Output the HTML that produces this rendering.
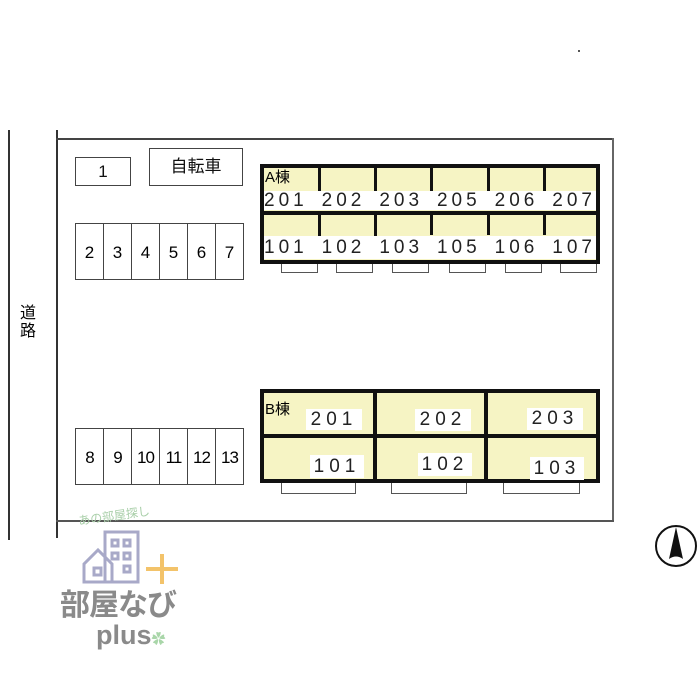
<!DOCTYPE html>
<html><head><meta charset="utf-8"><style>
body{margin:0;width:700px;height:700px;background:#fff;position:relative;overflow:hidden;font-family:"Liberation Sans","Noto Sans CJK JP",sans-serif}
div{position:absolute;box-sizing:border-box}
.ln{background:#333}
.box{border:1.5px solid #444;background:#fff;text-align:center;color:#111}
.p{border:1px solid #444;border-right:none;width:28px;height:57px;line-height:57px;text-align:center;font-size:17px}
.y{background:#f6f4c4}
.w{background:#fff;font-size:19px;letter-spacing:5px;color:#222;text-align:center}
.bal{border:1.5px solid #555;border-top:none;height:9px;background:#fff}
</style></head><body>
<div class="ln" style="left:8px;top:130px;width:2px;height:410px"></div>
<div style="left:20px;top:305px;font-size:16px;line-height:18px;width:20px">道<br>路</div>
<div class="ln" style="left:56px;top:130px;width:2px;height:408px"></div>
<div class="ln" style="left:56px;top:138px;width:558px;height:2px;background:#444"></div>
<div class="ln" style="left:612px;top:138px;width:1.5px;height:384px;background:#666"></div>
<div class="ln" style="left:56px;top:520px;width:558px;height:2px;background:#555"></div>

<div class="box" style="left:75px;top:157px;width:56px;height:29px;line-height:27px;font-size:17px">1</div>
<div class="box" style="left:149px;top:148px;width:94px;height:38px;line-height:36px;font-size:17px">自転車</div>

<div style="left:75px;top:223px;width:169px;height:57px;border-right:1px solid #444;display:flex">
<div class="p" style="position:static">2</div><div class="p" style="position:static">3</div><div class="p" style="position:static">4</div><div class="p" style="position:static">5</div><div class="p" style="position:static">6</div><div class="p" style="position:static">7</div></div>
<div style="left:75px;top:428px;width:169px;height:57px;border-right:1px solid #444;display:flex;letter-spacing:-1px">
<div class="p" style="position:static">8</div><div class="p" style="position:static">9</div><div class="p" style="position:static">10</div><div class="p" style="position:static">11</div><div class="p" style="position:static">12</div><div class="p" style="position:static">13</div></div>

<!-- A building -->
<div class="y" style="left:260px;top:164px;width:340px;height:100px;border:4px solid #111"></div>
<div class="ln" style="left:260px;top:211px;width:340px;height:4px;background:#111"></div>
<div style="left:318px;top:166px;width:3px;height:26px;background:#111"></div>
<div style="left:374px;top:166px;width:3px;height:26px;background:#111"></div>
<div style="left:430px;top:166px;width:3px;height:26px;background:#111"></div>
<div style="left:487px;top:166px;width:3px;height:26px;background:#111"></div>
<div style="left:543px;top:166px;width:3px;height:26px;background:#111"></div>
<div style="left:318px;top:215px;width:3px;height:25px;background:#111"></div>
<div style="left:374px;top:215px;width:3px;height:25px;background:#111"></div>
<div style="left:430px;top:215px;width:3px;height:20px;background:#111"></div>
<div style="left:487px;top:215px;width:3px;height:20px;background:#111"></div>
<div style="left:543px;top:215px;width:3px;height:20px;background:#111"></div>
<div style="left:265px;top:166px;font-size:15px">A棟</div>
<div class="w" style="left:264px;top:191px;width:332px;height:19px;line-height:19px;display:flex;justify-content:space-between;letter-spacing:4px"><span>201</span><span>202</span><span>203</span><span>205</span><span>206</span><span>207</span></div>
<div class="w" style="left:264px;top:236px;width:332px;height:23px;line-height:23px;display:flex;justify-content:space-between;letter-spacing:4px"><span>101</span><span>102</span><span>103</span><span>105</span><span>106</span><span>107</span></div>
<div class="bal" style="left:281px;top:264px;width:37px"></div>
<div class="bal" style="left:336px;top:264px;width:37px"></div>
<div class="bal" style="left:392px;top:264px;width:37px"></div>
<div class="bal" style="left:449px;top:264px;width:37px"></div>
<div class="bal" style="left:505px;top:264px;width:37px"></div>
<div class="bal" style="left:560px;top:264px;width:37px"></div>

<!-- B building -->
<div class="y" style="left:260px;top:389px;width:340px;height:94px;border:4px solid #111"></div>
<div style="left:260px;top:434px;width:340px;height:4px;background:#111"></div>
<div style="left:373px;top:389px;width:4px;height:94px;background:#111"></div>
<div style="left:484px;top:389px;width:4px;height:94px;background:#111"></div>
<div style="left:265px;top:398px;font-size:15px">B棟</div>
<div class="w" style="left:306px;top:409px;width:56px;height:21px;line-height:21px">201</div>
<div class="w" style="left:415px;top:409px;width:56px;height:22px;line-height:22px">202</div>
<div class="w" style="left:527px;top:408px;width:56px;height:22px;line-height:22px">203</div>
<div class="w" style="left:310px;top:455px;width:54px;height:23px;line-height:23px">101</div>
<div class="w" style="left:418px;top:453px;width:54px;height:23px;line-height:23px">102</div>
<div class="w" style="left:530px;top:457px;width:54px;height:23px;line-height:23px">103</div>
<div class="bal" style="left:281px;top:483px;width:75px;height:11px"></div>
<div class="bal" style="left:391px;top:483px;width:76px;height:11px"></div>
<div class="bal" style="left:503px;top:483px;width:77px;height:11px"></div>

<svg style="position:absolute;left:651px;top:521px" width="50" height="50"><circle cx="25" cy="25" r="20" fill="#fff" stroke="#111" stroke-width="2"/><path d="M25 6 L18 38 Q25 33 32 38 Z" fill="#111"/></svg>
<div style="left:578px;top:50px;width:2px;height:2px;background:#555"></div>

<!-- logo -->
<div style="left:78px;top:507px;font-size:12px;color:#a9cfa9;transform:rotate(-8deg)">あの部屋探し</div>
<svg style="position:absolute;left:80px;top:528px" width="100" height="60"><g fill="none" stroke="#a8a9c8" stroke-width="3"><rect x="25" y="4" width="33" height="50"/><path d="M4 54 V36 L18 22 L32 36 V54 Z"/><rect x="14" y="40" width="7" height="7"/><rect x="32" y="12" width="6" height="6"/><rect x="44" y="12" width="6" height="6"/><rect x="32" y="25" width="6" height="6"/><rect x="44" y="25" width="6" height="6"/><rect x="44" y="38" width="6" height="6"/></g><g stroke="#f3c36a" stroke-width="4"><line x1="82" y1="26" x2="82" y2="56"/><line x1="66" y1="41" x2="98" y2="41"/></g></svg>
<div style="left:60px;top:589px;font-size:30px;font-weight:bold;color:#8a8a8a;letter-spacing:-1px;line-height:34px">部屋なび</div>
<div style="left:96px;top:620px;font-size:27px;font-weight:bold;color:#8a8a8a;line-height:30px">plus<span style="color:#a9d6a9;font-size:14px">✿</span></div>
</body></html>
